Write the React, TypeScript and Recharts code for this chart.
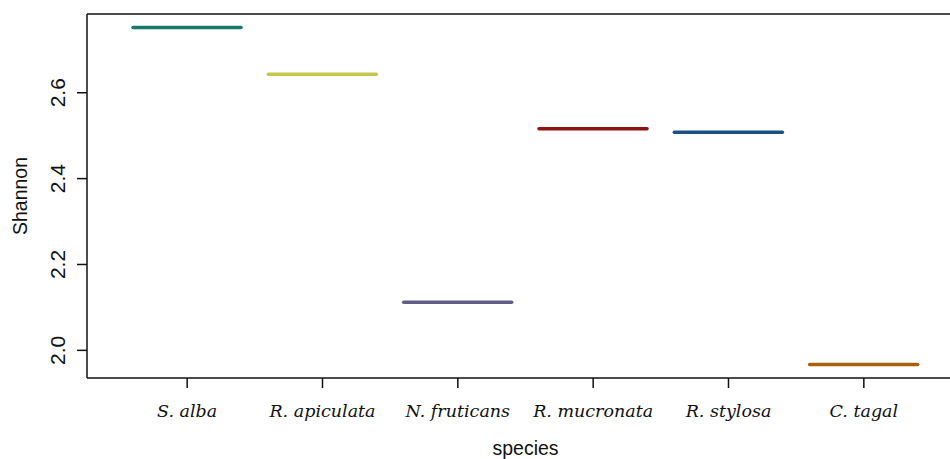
import { ComposedChart, Bar, XAxis, YAxis, ReferenceLine } from "recharts";

// species along the x axis (R boxplot, one value each -> only the median line shows)
const species = ["S. alba", "R. apiculata", "N. fruticans", "R. mucronata", "R. stylosa", "C. tagal"];
const shannon = [2.752, 2.643, 2.112, 2.516, 2.508, 1.967];
const colors = ["#17796a", "#c6c64c", "#615d8a", "#8e1212", "#1d4f80", "#a8600a"];
const yTicks = [2.0, 2.2, 2.4, 2.6];

// R pads the range by 4% on each side
const yMin = 1.9356;
const yMax = 2.7834;

const data = species.map((s, i) => ({ species: s, shannon: shannon[i], color: colors[i] }));

const sans = "'Liberation Sans', Arial, Helvetica, sans-serif";
const serif = "'DejaVu Serif', 'Liberation Serif', serif";

function MedianLine(props: any) {
  const { x, y, width, payload } = props;
  return (
    <line
      x1={x}
      x2={x + width}
      y1={y}
      y2={y}
      stroke={payload.color}
      strokeWidth={3.5}
      strokeLinecap="round"
    />
  );
}

function YTick(props: any) {
  const { x, y, payload } = props;
  return (
    <text
      x={x}
      y={y}
      transform={`rotate(-90, ${x}, ${y})`}
      textAnchor="middle"
      fontFamily={sans}
      fontSize={21}
      fill="#111"
    >
      {payload.value.toFixed(1)}
    </text>
  );
}

function XTick(props: any) {
  const { x, y, payload } = props;
  return (
    <text x={x} y={y} textAnchor="middle" fontFamily={serif} fontStyle="italic" fontSize={17.5} fill="#111">
      {payload.value}
    </text>
  );
}

export default function App() {
  return (
    <div style={{ position: "absolute", left: 0, top: 0, width: 950, height: 459, overflow: "hidden", background: "#fff" }}>
      <ComposedChart
        width={980}
        height={459}
        data={data}
        margin={{ top: 14, right: 16, bottom: 0, left: 0 }}
        barCategoryGap="10%"
      >
        <XAxis
          dataKey="species"
          height={81}
          padding={{ left: 32.5, right: 32.5 }}
          axisLine={{ stroke: "#111", strokeWidth: 1.5 }}
          tickLine={{ stroke: "#111", strokeWidth: 1.5 }}
          tickSize={10}
          tickMargin={29}
          tick={<XTick />}
          interval={0}
          label={{
            content: (p: any) => {
              const vb = p.viewBox;
              return (
                <text x={vb.x + vb.width / 2} y={vb.y + 77} textAnchor="middle" fontFamily={sans} fontSize={19.5} fill="#111">
                  species
                </text>
              );
            },
          }}
        />
        <YAxis
          type="number"
          width={87}
          domain={[yMin, yMax]}
          allowDataOverflow
          ticks={yTicks}
          axisLine={{ stroke: "#111", strokeWidth: 1.5 }}
          tickLine={{ stroke: "#111", strokeWidth: 1.5 }}
          tickSize={10}
          tickMargin={12}
          tick={<YTick />}
          label={{
            content: (p: any) => {
              const vb = p.viewBox;
              const cx = vb.x + 27;
              const cy = vb.y + vb.height / 2;
              return (
                <text
                  x={cx}
                  y={cy}
                  transform={`rotate(-90, ${cx}, ${cy})`}
                  textAnchor="middle"
                  fontFamily={sans}
                  fontSize={19.5}
                  fill="#111"
                >
                  Shannon
                </text>
              );
            },
          }}
        />
        {/* top side of the plot box */}
        <ReferenceLine y={yMax} stroke="#111" strokeWidth={1.5} ifOverflow="visible" />
        <Bar dataKey="shannon" shape={<MedianLine />} isAnimationActive={false} />
      </ComposedChart>
    </div>
  );
}
